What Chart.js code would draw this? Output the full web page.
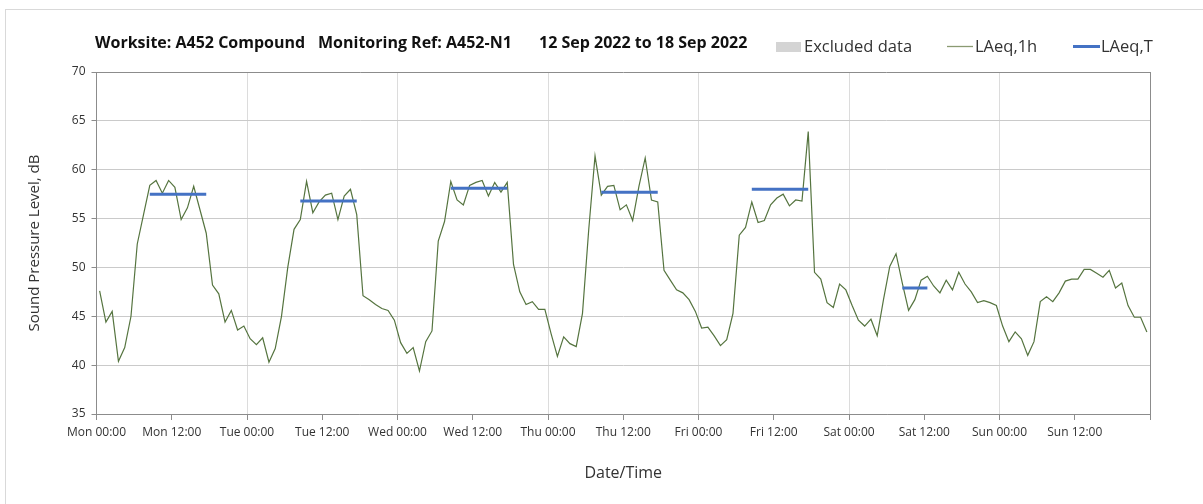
<!DOCTYPE html>
<html>
<head>
<meta charset="utf-8">
<title>A452-N1 - 12 Sep 2022 to 18 Sep 2022</title>
<script src="https://cdn.jsdelivr.net/npm/chart.js@4/dist/chart.umd.min.js"></script>
<style>
  html, body { margin: 0; padding: 0; background: #fff; }
  canvas { display: block; }
</style>
</head>
<body>
<canvas id="graphiqueBruit" width="1203" height="504"></canvas>
<script>
// LAeq,1h : une valeur par heure, lundi 00:00 -> dimanche 23:00
const LAEQ_1H = [
    47.6, 44.4, 45.5, 40.4, 41.8, 45.0, 52.4, 55.4, 58.4, 58.9, 57.6, 58.9,
    58.2, 54.9, 56.1, 58.3, 55.9, 53.5, 48.2, 47.3, 44.4, 45.6, 43.6, 44.0,
    42.7, 42.1, 42.8, 40.3, 41.7, 45.0, 50.0, 53.9, 54.9, 58.8, 55.6, 56.7,
    57.4, 57.6, 54.9, 57.3, 58.0, 55.4, 47.1, 46.7, 46.2, 45.8, 45.6, 44.6,
    42.3, 41.2, 41.8, 39.4, 42.4, 43.5, 52.7, 54.7, 58.8, 56.9, 56.4, 58.4,
    58.7, 58.9, 57.3, 58.7, 57.7, 58.7, 50.3, 47.5, 46.2, 46.5, 45.7, 45.7,
    43.2, 40.9, 42.9, 42.2, 41.9, 45.3, 53.9, 61.4, 57.4, 58.3, 58.4, 55.9,
    56.4, 54.8, 58.3, 61.2, 56.9, 56.7, 49.7, 48.7, 47.7, 47.4, 46.7, 45.5,
    43.8, 43.9, 43.0, 42.0, 42.6, 45.3, 53.3, 54.1, 56.7, 54.6, 54.8, 56.4,
    57.1, 57.5, 56.3, 56.9, 56.8, 63.9, 49.5, 48.8, 46.4, 45.9, 48.3, 47.7,
    46.1, 44.6, 44.0, 44.7, 43.0, 46.7, 50.1, 51.4, 48.4, 45.6, 46.7, 48.7,
    49.1, 48.1, 47.4, 48.7, 47.7, 49.5, 48.3, 47.5, 46.4, 46.6, 46.4, 46.1,
    44.0, 42.4, 43.4, 42.7, 41.0, 42.4, 46.5, 47.0, 46.5, 47.4, 48.6, 48.8,
    48.8, 49.8, 49.8, 49.4, 49.0, 49.7, 47.9, 48.4, 46.1, 44.9, 44.9, 43.4
];

// LAeq,T : une valeur par période de travail (lun -> sam)
const LAEQ_T        = [57.5, 56.8, 58.1, 57.7, 58.0, 47.9];
const DEBUT_PERIODE = [8, 8, 8, 8, 8, 8];
const FIN_PERIODE   = [18, 18, 18, 18, 18, 13];

const ETIQUETTES_X = [
    'Mon 00:00', 'Mon 12:00', 'Tue 00:00', 'Tue 12:00', 'Wed 00:00', 'Wed 12:00',
    'Thu 00:00', 'Thu 12:00', 'Fri 00:00', 'Fri 12:00', 'Sat 00:00', 'Sat 12:00',
    'Sun 00:00', 'Sun 12:00', ''
];
const Y_MIN = 35;
const Y_MAX = 70;
const Y_PAS = 5;

const TITRE_MORCEAUX = [
    'Worksite: A452 Compound',
    'Monitoring Ref: A452-N1',
    '12 Sep 2022 to 18 Sep 2022'
];
const LEGENDE = ['Excluded data', 'LAeq,1h', 'LAeq,T'];

const VERT  = '#55743f';
const BLEU  = '#4472c4';
const GRIS  = '#d4d4d4';

// points horaires au milieu de chaque heure
const pointsHoraires = LAEQ_1H.map((v, i) => ({ x: i + 0.5, y: v }));

// segments LAeq,T, séparés par un point nul
const pointsPeriode = [];
LAEQ_T.forEach((v, jour) => {
    for (let h = DEBUT_PERIODE[jour]; h < FIN_PERIODE[jour]; h++) {
        pointsPeriode.push({ x: jour * 24 + h + 0.5, y: v });
    }
    pointsPeriode.push({ x: jour * 24 + 23, y: null });
});

// entête : titre + légende dessinés à la main sur la même ligne
const pluginEntete = {
    id: 'entete',
    beforeDraw(chart) {
        const ctx = chart.ctx;
        ctx.save();
        // cadre du graphique
        ctx.strokeStyle = '#d9d9d9';
        ctx.lineWidth = 1;
        ctx.strokeRect(5.5, 9.5, 1300, 600);
        ctx.restore();
    },
    afterDraw(chart) {
        const ctx = chart.ctx;
        ctx.save();
        ctx.textBaseline = 'alphabetic';
        ctx.fillStyle = '#111';
        ctx.font = 'bold 16px "Open Sans"';
        const xs = [95, 318, 539];
        TITRE_MORCEAUX.forEach((t, i) => ctx.fillText(t, xs[i], 48));

        ctx.font = '16.5px "Open Sans"';
        // Excluded data
        ctx.fillStyle = GRIS;
        ctx.fillRect(776, 42, 25, 10);
        ctx.fillStyle = '#333';
        ctx.fillText(LEGENDE[0], 804, 52);
        // LAeq,1h
        ctx.strokeStyle = '#8a9a72';
        ctx.lineWidth = 1.3;
        ctx.beginPath();
        ctx.moveTo(947, 46.5);
        ctx.lineTo(973, 46.5);
        ctx.stroke();
        ctx.fillText(LEGENDE[1], 975, 52);
        // LAeq,T
        ctx.strokeStyle = BLEU;
        ctx.lineWidth = 3;
        ctx.beginPath();
        ctx.moveTo(1073, 46.5);
        ctx.lineTo(1100, 46.5);
        ctx.stroke();
        ctx.fillText(LEGENDE[2], 1101, 52);
        ctx.restore();
    }
};

function creerGraphique(canvas) {
    new Chart(canvas, {
        type: 'line',
        data: {
            datasets: [
                {
                    label: LEGENDE[2],
                    data: pointsPeriode,
                    borderColor: BLEU,
                    borderWidth: 3,
                    borderCapStyle: 'butt',
                    pointRadius: 0,
                    spanGaps: false,
                    tension: 0
                },
                {
                    label: LEGENDE[1],
                    data: pointsHoraires,
                    borderColor: VERT,
                    borderWidth: 1.2,
                    pointRadius: 0,
                    tension: 0
                }
            ]
        },
        options: {
            responsive: false,
            animation: false,
            events: [],
            layout: { padding: { left: 0, top: 72, right: 53, bottom: 0 } },
            plugins: {
                legend: { display: false },
                title: { display: false },
                tooltip: { enabled: false }
            },
            scales: {
                x: {
                    type: 'linear',
                    min: 0,
                    max: 168,
                    afterFit(scale) { scale.height = 90; },
                    border: { color: '#8c8c8c', width: 1 },
                    grid: {
                        color: c => {
                            const v = c.tick ? c.tick.value : 0;
                            if (v === 168) return '#8c8c8c';
                            return v % 24 === 0 ? '#dcdcdc' : 'rgba(0,0,0,0)';
                        },
                        tickColor: '#8c8c8c',
                        tickLength: 6,
                        drawTicks: true
                    },
                    ticks: {
                        stepSize: 12,
                        autoSkip: false,
                        maxRotation: 0,
                        padding: 5,
                        color: '#333',
                        font: { family: '"Open Sans"', size: 12 },
                        callback: v => ETIQUETTES_X[v / 12]
                    },
                    title: {
                        display: true,
                        text: 'Date/Time',
                        color: '#333',
                        font: { family: '"Open Sans"', size: 16 },
                        padding: { top: 0, bottom: 21 }
                    }
                },
                y: {
                    min: Y_MIN,
                    max: Y_MAX,
                    afterFit(scale) { scale.width = 96.5; },
                    border: { color: '#8c8c8c', width: 1 },
                    grid: {
                        color: c => (c.tick && c.tick.value === Y_MAX) ? '#8c8c8c' : '#cacaca',
                        tickColor: '#8c8c8c',
                        tickLength: 5
                    },
                    ticks: {
                        stepSize: Y_PAS,
                        padding: 6,
                        color: '#333',
                        font: { family: '"Open Sans"', size: 12 }
                    },
                    title: {
                        display: true,
                        text: 'Sound Pressure Level, dB',
                        color: '#333',
                        font: { family: '"Open Sans"', size: 15 },
                        padding: { top: 26, bottom: 0 }
                    }
                }
            }
        },
        plugins: [pluginEntete]
    });
}

creerGraphique(document.getElementById('graphiqueBruit'));
</script>
</body>
</html>
